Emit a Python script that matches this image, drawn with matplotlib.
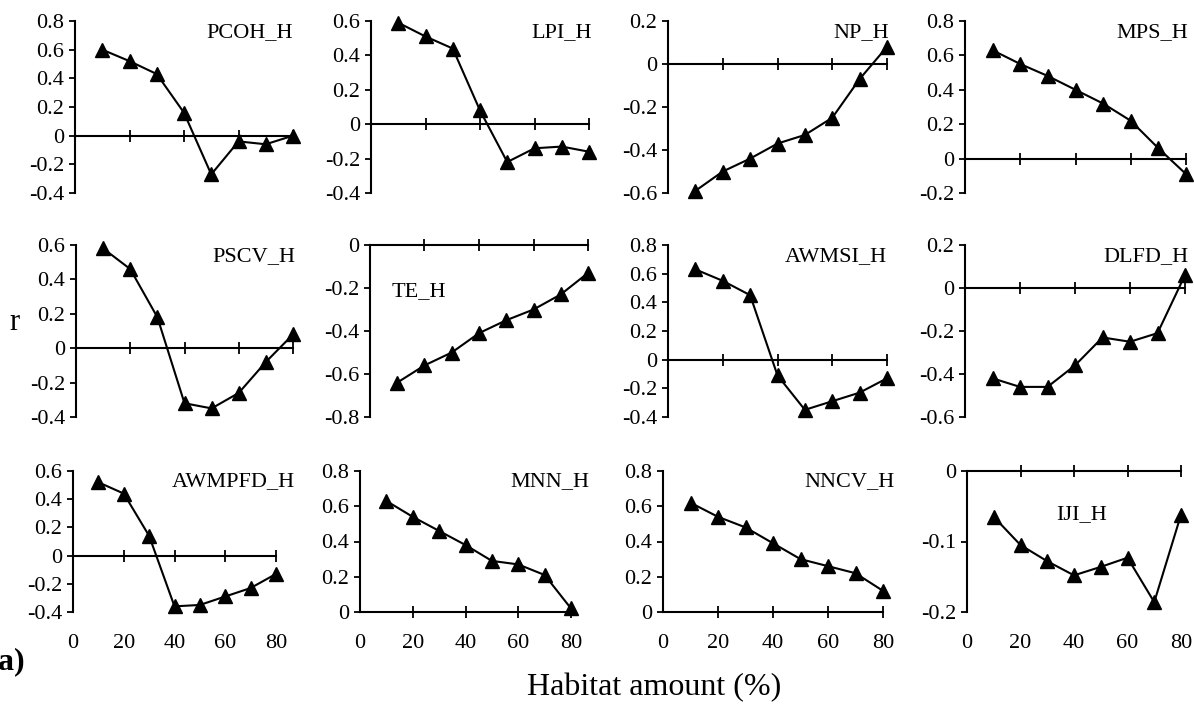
import matplotlib
matplotlib.use("Agg")
from matplotlib import pyplot as plt
import numpy as np

plt.rcParams['font.family'] = ['Liberation Serif', 'DejaVu Serif']
plt.rcParams['axes.unicode_minus'] = False

# habitat amount (%)
habitat = [10, 20, 30, 40, 50, 60, 70, 80]

names = ["PCOH_H", "LPI_H", "NP_H", "MPS_H",
         "PSCV_H", "TE_H", "AWMSI_H", "DLFD_H",
         "AWMPFD_H", "MNN_H", "NNCV_H", "IJI_H"]

pcoh = [0.60, 0.52, 0.43, 0.16, -0.27, -0.04, -0.06, 0.0]
lpi = [0.59, 0.51, 0.44, 0.08, -0.22, -0.14, -0.13, -0.16]
np_h = [-0.59, -0.50, -0.44, -0.37, -0.33, -0.25, -0.07, 0.08]
mps = [0.63, 0.55, 0.48, 0.40, 0.32, 0.22, 0.06, -0.09]
pscv = [0.58, 0.46, 0.18, -0.32, -0.35, -0.26, -0.08, 0.08]
te = [-0.64, -0.56, -0.50, -0.41, -0.35, -0.30, -0.23, -0.13]
awmsi = [0.63, 0.55, 0.45, -0.11, -0.35, -0.29, -0.23, -0.13]
dlfd = [-0.42, -0.46, -0.46, -0.36, -0.23, -0.25, -0.21, 0.06]
awmpfd = [0.52, 0.44, 0.14, -0.36, -0.35, -0.29, -0.23, -0.13]
mnn = [0.63, 0.54, 0.46, 0.38, 0.29, 0.27, 0.21, 0.02]
nncv = [0.62, 0.54, 0.48, 0.39, 0.30, 0.26, 0.22, 0.12]
iji = [-0.065, -0.105, -0.128, -0.148, -0.136, -0.123, -0.186, -0.062]

series = [pcoh, lpi, np_h, mps, pscv, te, awmsi, dlfd, awmpfd, mnn, nncv, iji]

# y axis range and tick step for each panel
yranges = [(-0.4, 0.8, 0.2), (-0.4, 0.6, 0.2), (-0.6, 0.2, 0.2), (-0.2, 0.8, 0.2),
           (-0.4, 0.6, 0.2), (-0.8, 0.0, 0.2), (-0.4, 0.8, 0.2), (-0.6, 0.2, 0.2),
           (-0.4, 0.6, 0.2), (0.0, 0.8, 0.2), (0.0, 0.8, 0.2), (-0.2, 0.0, 0.1)]

W, H = 1194, 708
fig = plt.figure(figsize=(W / 100, H / 100), dpi=100)

# axes boxes in pixels: left, top, right, bottom
boxes = [(75, 21, 293, 193), (371, 21, 589, 193), (668, 21, 887, 193), (965, 21, 1186, 193),
         (76, 245, 293, 417), (370, 245, 588, 417), (668, 245, 887, 417), (965, 245, 1185, 417),
         (73, 471, 276, 612), (360, 471, 571, 612), (663, 471, 883, 612), (967, 471, 1181, 612)]

# label anchor in pixels: x, y, horizontal alignment
label_pos = [(293, 33, 'right'), (592, 33, 'right'), (889, 33, 'right'), (1188, 33, 'right'),
             (295, 257, 'right'), (392, 292, 'left'), (887, 257, 'right'), (1189, 257, 'right'),
             (295, 482, 'right'), (589, 482, 'right'), (895, 482, 'right'), (1082, 515, 'center')]


def fmt(v):
    v = round(v, 2)
    if v == 0:
        return "0"
    return f"{v:g}"


for i, (name, vals) in enumerate(zip(names, series)):
    l, t, r, b = boxes[i]
    ax = fig.add_axes([l / W, 1 - b / H, (r - l) / W, (b - t) / H])
    ax.patch.set_alpha(0)
    ax.plot(habitat, vals, color='black', lw=1.5, marker='^', ms=10,
            clip_on=False, zorder=3)
    lo, hi, step = yranges[i]
    ax.set_ylim(lo, hi)
    ax.set_xlim(0, 80)
    yt = np.arange(lo, hi + step / 2, step)
    ax.set_yticks(yt)
    ax.set_yticklabels([fmt(v) for v in yt])
    ax.set_xticks([20, 40, 60, 80])
    ax.spines['top'].set_visible(False)
    ax.spines['right'].set_visible(False)
    ax.spines['bottom'].set_position(('data', 0))
    ax.spines['left'].set_linewidth(1.5)
    ax.spines['bottom'].set_linewidth(1.5)
    ax.tick_params(axis='y', direction='out', length=4, width=1.3, pad=4,
                   labelsize=16)
    ax.tick_params(axis='x', direction='inout', length=9, width=1.3,
                   labelbottom=False)
    if i >= 8:
        sec = ax.secondary_xaxis(0)
        sec.set_xticks([0, 20, 40, 60, 80])
        sec.spines['bottom'].set_visible(False)
        sec.tick_params(length=0, pad=16, labelsize=16)
    x, y, ha = label_pos[i]
    fig.text(x / W, 1 - y / H, name, ha=ha, va='center', fontsize=16)

fig.text(14 / W, 1 - 322 / H, "r", ha='center', va='center', fontsize=22)
fig.text(654 / W, 1 - 688 / H, "Habitat amount (%)", ha='center', va='center',
         fontsize=23)
fig.text(-2 / W, 1 - 662 / H, "a)", ha='left', va='center', fontsize=23,
         fontweight='bold')

fig.savefig("out.png", dpi=100)
